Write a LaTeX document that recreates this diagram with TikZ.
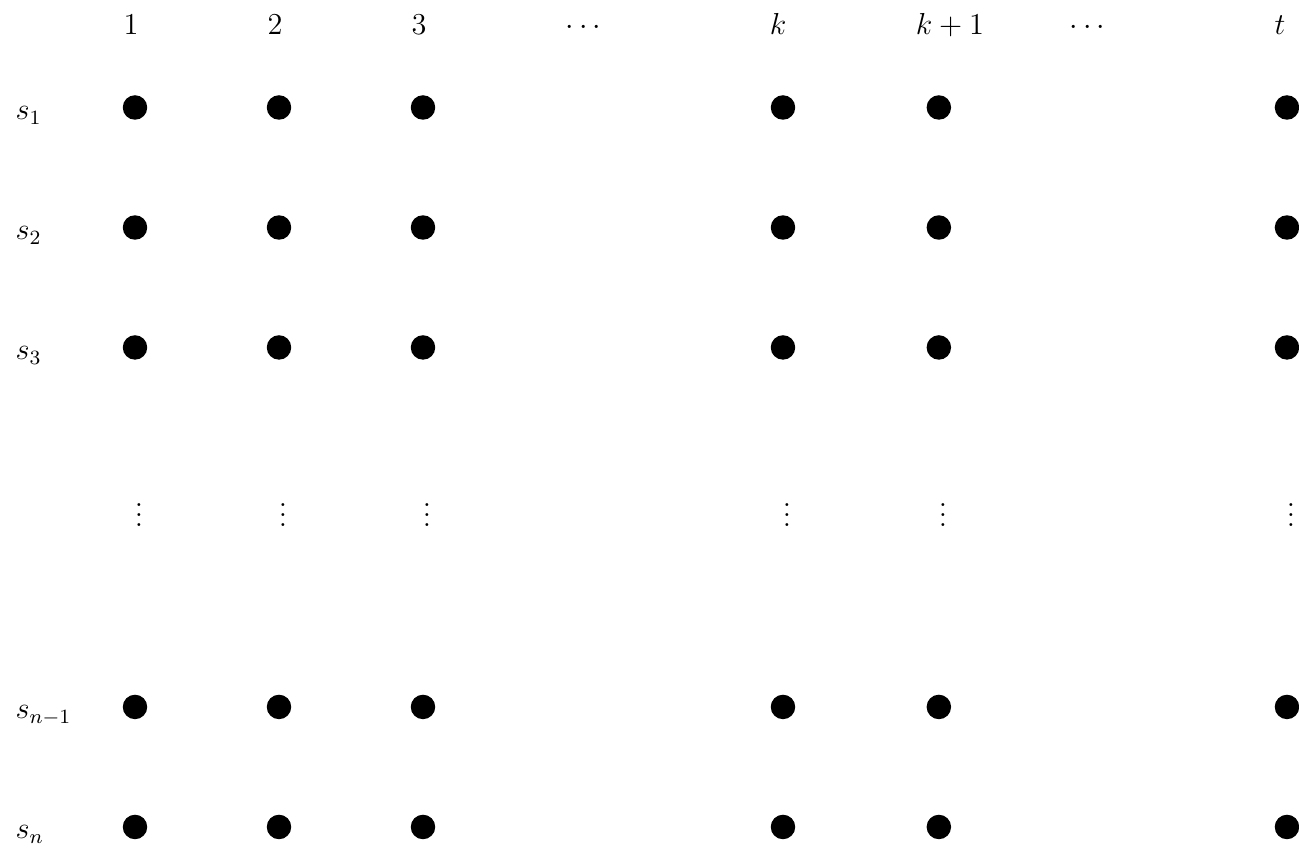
\documentclass[12pt,tikz,border=0pt]{standalone}
\usepackage{amsmath,amssymb}
\usetikzlibrary{positioning}
\tikzset{
  vertex/.style={circle, fill=black, inner sep=0pt, minimum size=0.34cm},
  colhead/.style={anchor=base, inner sep=0pt},
  rowlab/.style={anchor=base west, inner sep=0pt},
  vskip/.style={anchor=base, inner sep=0pt, xshift=0.56mm},
}

\begin{document}
\begin{tikzpicture}
  \useasboundingbox (0,0) rectangle (18.042,-11.778);
  % column headers
  \foreach \c/\x/\lab in {1/1.819/1, 2/3.819/2, 3/5.819/3, d1/8.139/\cdots,
                          k/10.806/k, kk/13.194/k+1, d2/15.139/\cdots, t/17.778/t}
    \node[colhead] (h-\c) at (\x,-0.479) {$\lab$};
  % row labels
  \foreach \r/\y/\lab in {1/-1.660/s_1, 2/-3.327/s_2, 3/-4.993/s_3,
                          m/-9.986/s_{n-1}, n/-11.653/s_n}
    \node[rowlab] (s-\r) at (0.21,\y) {$\lab$};
  % vertices
  \foreach \c/\x in {1/1.875, 2/3.875, 3/5.875, k/10.875, kk/13.04, t/17.875} {
    \foreach \r/\y in {1/-1.493, 2/-3.160, 3/-4.826, m/-9.819, n/-11.486}
      \node[vertex] (v-\r-\c) at (\x,\y) {};
    \node[vskip] (vd-\c) at (\x,-7.315) {$\vdots$};
  }
\end{tikzpicture}
\end{document}
